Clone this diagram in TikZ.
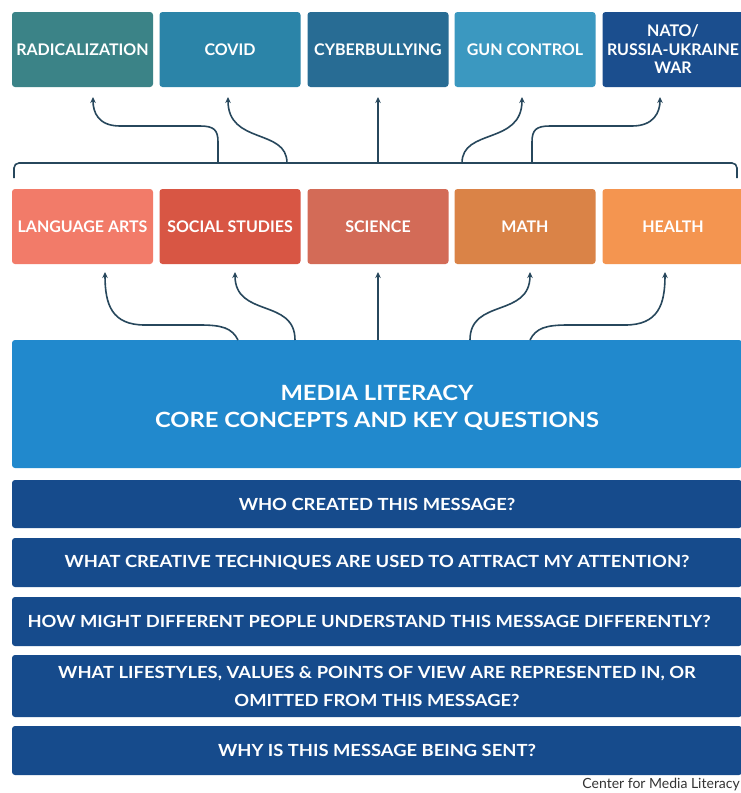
\documentclass[tikz,border=0pt]{standalone}
\usepackage{fontspec}
\setmainfont{Lato}
\newfontfamily\qfont{Lato}[FakeStretch=1.10]
\newfontfamily\mfont{Lato}[FakeStretch=1.13]
\usetikzlibrary{arrows.meta}
\definecolor{crad}{HTML}{3B8387}
\definecolor{ccovid}{HTML}{2B84A8}
\definecolor{ccyber}{HTML}{286C94}
\definecolor{cgun}{HTML}{3B98C0}
\definecolor{cnato}{HTML}{1B4E8E}
\definecolor{cla}{HTML}{F27B69}
\definecolor{css}{HTML}{D85644}
\definecolor{csci}{HTML}{D36B57}
\definecolor{cmath}{HTML}{DA8347}
\definecolor{chealth}{HTML}{F49550}
\definecolor{cmain}{HTML}{2189CD}
\definecolor{cq}{HTML}{164B8C}
\definecolor{carrow}{HTML}{27475C}
\begin{document}
\begin{tikzpicture}[x=1pt,y=-1pt,
  box/.style={rectangle, rounded corners=3pt, text=white, align=center, inner sep=0pt,
    minimum width=141pt, minimum height=75pt, font=\bfseries\fontsize{16}{18.5}\selectfont},
  qbox/.style={rectangle, rounded corners=3pt, fill=cq, text=white, align=center, inner sep=0pt,
    minimum width=730pt, font=\qfont\bfseries\fontsize{16.7}{28}\selectfont},
  conn/.style={draw=carrow, line width=1.6pt, -{Stealth[length=6pt,width=5.5pt]}},
  brace/.style={draw=carrow, line width=1.6pt, rounded corners=5pt}
]
\useasboundingbox (0,0) rectangle (740,793);
\fill[white] (0,0) rectangle (740,793);

% top row
\node[box, fill=crad]   (rad)   at (82.5,49.5) {RADICALIZATION};
\node[box, fill=ccovid] (covid) at (230,49.5)  {COVID};
\node[box, fill=ccyber] (cyber) at (378,49.5)  {CYBERBULLYING};
\node[box, fill=cgun]   (gun)   at (525,49.5)  {GUN CONTROL};
\node[box, fill=cnato]  (nato)  at (673,49.5)  {NATO/\\RUSSIA-UKRAINE\\WAR};

% middle row
\node[box, fill=cla]     (la)     at (82.5,226.5) {LANGUAGE ARTS};
\node[box, fill=css]     (ss)     at (230,226.5)  {SOCIAL STUDIES};
\node[box, fill=csci]    (sci)    at (378,226.5)  {SCIENCE};
\node[box, fill=cmath]   (math)   at (525,226.5)  {MATH};
\node[box, fill=chealth] (health) at (673,226.5)  {HEALTH};

% main box
\node[rectangle, rounded corners=3pt, fill=cmain, inner sep=0pt,
  minimum width=730pt, minimum height=128pt] (main) at (377,404) {};
\node[text=white, align=center, inner sep=0pt, font=\mfont\bfseries\fontsize{21}{27}\selectfont]
  (maintext) at (377,408) {MEDIA LITERACY\\CORE CONCEPTS AND KEY QUESTIONS};

% questions
\node[qbox, minimum height=48pt] (q1) at (377,504)   {WHO CREATED THIS MESSAGE?};
\node[qbox, minimum height=49pt] (q2) at (377,562.5) {WHAT CREATIVE TECHNIQUES ARE USED TO ATTRACT MY ATTENTION?};
\node[qbox, minimum height=49pt] (q3) at (377,621.5) {HOW MIGHT DIFFERENT PEOPLE UNDERSTAND THIS MESSAGE DIFFERENTLY?\hspace*{16pt}};
\node[qbox, minimum height=62pt] (q4) at (377,686)   {WHAT LIFESTYLES, VALUES \& POINTS OF VIEW ARE REPRESENTED IN, OR\\OMITTED FROM THIS MESSAGE?};
\node[qbox, minimum height=49pt] (q5) at (377,750.5) {WHY IS THIS MESSAGE BEING SENT?};

\node[anchor=east, inner sep=0pt, text=black!80, font=\fontsize{14}{16}\selectfont] (credit) at (740,785) {Center for Media Literacy};

% bracket
\coordinate (bl) at (14,178);
\coordinate (br) at (737,178);
\draw[brace] (bl) -- (14,163) -- (737,163) -- (br);

% top arrows
\coordinate (s1) at (218,163); \coordinate (t1) at (93,97);
\coordinate (s2) at (287,163); \coordinate (t2) at (228,97);
\coordinate (s3) at (378,163); \coordinate (t3) at (378,97);
\coordinate (s4) at (462,163); \coordinate (t4) at (522,97);
\coordinate (s5) at (532,163); \coordinate (t5) at (660,97);
\draw[conn] (s1) -- (218,142) .. controls (218,130) and (214,126) .. (200,126) -- (120,126) .. controls (98,126) and (93,112) .. (t1);
\draw[conn] (s2) .. controls (287,128) and (228,145) .. (t2);
\draw[conn] (s3) -- (t3);
\draw[conn] (s4) .. controls (462,128) and (522,145) .. (t4);
\draw[conn] (s5) -- (532,142) .. controls (532,130) and (536,126) .. (550,126) -- (632,126) .. controls (654,126) and (660,112) .. (t5);

% middle arrows
\coordinate (m1) at (238,340); \coordinate (u1) at (105,272);
\coordinate (m2) at (295,340); \coordinate (u2) at (235,272);
\coordinate (m3) at (378,340); \coordinate (u3) at (378,272);
\coordinate (m4) at (470,340); \coordinate (u4) at (530,272);
\coordinate (m5) at (530,340); \coordinate (u5) at (665,272);
\draw[conn] (m1) .. controls (232,328) and (222,325) .. (200,325) -- (145,325) .. controls (112,325) and (105,305) .. (u1);
\draw[conn] (m2) .. controls (295,298) and (235,318) .. (u2);
\draw[conn] (m3) -- (u3);
\draw[conn] (m4) .. controls (470,298) and (530,318) .. (u4);
\draw[conn] (m5) .. controls (536,328) and (546,325) .. (568,325) -- (625,325) .. controls (658,325) and (665,305) .. (u5);
\end{tikzpicture}
\end{document}
